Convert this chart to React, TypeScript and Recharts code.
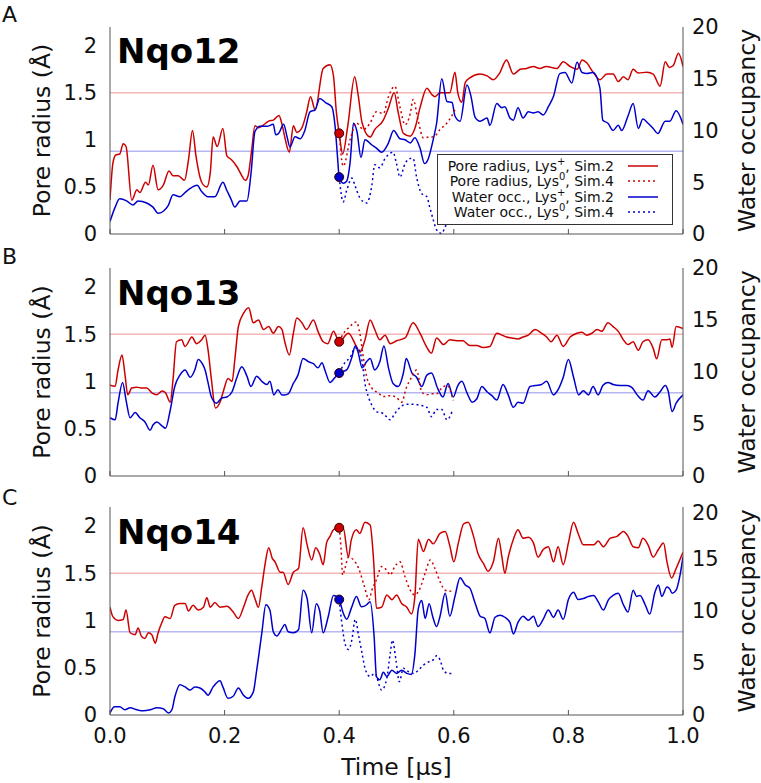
import React from 'react';
import { LineChart, Line, XAxis, YAxis, ReferenceLine, Legend } from 'recharts';

type Pt = [number, number];

// ---------- axis ticks / labels ----------
const timeTicks = [0, 0.2, 0.4, 0.6, 0.8, 1.0];
const radiusTicks = [0, 0.5, 1, 1.5, 2];
const waterTicks = [0, 5, 10, 15, 20];
const radiusRef = 1.5;
const waterRef = 8;
const panelLetters = ['A', 'B', 'C'];
const panelNames = ['Nqo12', 'Nqo13', 'Nqo14'];
const legendLabels = [
  { pre: 'Pore radius, Lys', sup: '+', post: ', Sim.2' },
  { pre: 'Pore radius, Lys', sup: '0', post: ', Sim.4' },
  { pre: 'Water occ., Lys', sup: '+', post: ', Sim.2' },
  { pre: 'Water occ., Lys', sup: '0', post: ', Sim.4' },
];

// ---------- Panel A (Nqo12) ----------
const A_radiusSim2: Pt[] = [[0,0.36],[0.005,0.75],[0.01,0.84],[0.017,0.85],[0.023,0.96],[0.028,0.93],[0.038,0.36],[0.047,0.47],[0.052,0.44],[0.062,0.55],[0.067,0.52],[0.075,0.73],[0.084,0.47],[0.093,0.52],[0.103,0.67],[0.11,0.62],[0.119,0.62],[0.13,0.57],[0.137,0.79],[0.144,1.10],[0.15,0.83],[0.16,0.55],[0.169,0.5],[0.175,0.65],[0.18,1.03],[0.187,0.93],[0.197,1.12],[0.204,0.83],[0.212,0.79],[0.221,0.72],[0.23,0.62],[0.236,0.57],[0.241,0.62],[0.247,0.88],[0.253,1.15],[0.259,1.13],[0.268,1.16],[0.277,1.20],[0.285,1.21],[0.295,1.26],[0.3,1.17],[0.305,1.03],[0.313,0.87],[0.32,1.15],[0.326,1.08],[0.335,1.13],[0.343,1.29],[0.35,1.46],[0.358,1.32],[0.372,1.76],[0.384,1.80],[0.39,1.68],[0.395,1.3],[0.4,1.07],[0.406,0.85],[0.415,1.15],[0.427,1.67],[0.433,1.48],[0.44,1.18],[0.454,1.03],[0.462,1.11],[0.477,1.21],[0.486,1.34],[0.496,1.50],[0.503,1.29],[0.512,1.07],[0.524,1.04],[0.532,1.12],[0.541,1.34],[0.553,1.55],[0.562,1.48],[0.567,1.46],[0.576,1.50],[0.582,1.50],[0.593,1.50],[0.602,1.72],[0.607,1.50],[0.614,1.40],[0.62,1.61],[0.628,1.66],[0.646,1.70],[0.658,1.68],[0.669,1.64],[0.68,1.71],[0.692,1.85],[0.704,1.70],[0.716,1.75],[0.727,1.76],[0.739,1.78],[0.75,1.76],[0.761,1.78],[0.78,1.76],[0.791,1.83],[0.803,1.78],[0.815,1.75],[0.824,1.85],[0.832,1.82],[0.843,1.72],[0.855,1.64],[0.867,1.70],[0.878,1.70],[0.887,1.62],[0.896,1.67],[0.904,1.64],[0.913,1.75],[0.922,1.71],[0.937,1.72],[0.948,1.70],[0.96,1.57],[0.969,1.83],[0.976,1.77],[0.983,1.79],[0.992,1.92],[1.0,1.78]];
const A_radiusSim4: Pt[] = [[0.4,1.07],[0.407,0.72],[0.419,1.0],[0.43,1.18],[0.442,1.11],[0.454,1.18],[0.465,1.30],[0.477,1.28],[0.486,1.46],[0.497,1.57],[0.506,1.35],[0.515,1.16],[0.524,1.28],[0.529,1.43],[0.538,1.2],[0.547,1.02],[0.556,1.03],[0.564,1.03],[0.576,1.11],[0.588,1.18],[0.597,1.26],[0.602,1.32]];
const A_waterSim2: Pt[] = [[0,1.2],[0.009,2.6],[0.017,3.4],[0.029,3.2],[0.04,2.8],[0.049,3.2],[0.064,3.0],[0.075,2.6],[0.084,2.0],[0.093,2.2],[0.102,2.8],[0.11,3.8],[0.122,3.6],[0.131,4.0],[0.14,4.4],[0.152,4.7],[0.16,4.1],[0.171,3.6],[0.183,3.6],[0.197,5.0],[0.204,4.2],[0.211,3.4],[0.218,2.6],[0.227,3.2],[0.239,3.2],[0.246,5.8],[0.253,9.9],[0.262,10.4],[0.274,10.4],[0.285,10.6],[0.289,9.6],[0.294,9.7],[0.303,10.6],[0.309,9.4],[0.314,8.4],[0.323,9.4],[0.332,9.2],[0.34,10.0],[0.349,11.8],[0.358,12.0],[0.366,13.1],[0.376,12.7],[0.387,12.3],[0.393,10.3],[0.397,7.5],[0.4,5.5],[0.407,4.9],[0.413,5.1],[0.419,6.9],[0.425,10.7],[0.431,9.9],[0.438,7.4],[0.445,9.1],[0.457,8.6],[0.465,8.3],[0.474,7.9],[0.486,8.8],[0.495,10.0],[0.506,9.2],[0.515,9.1],[0.524,8.8],[0.532,9.3],[0.541,8.3],[0.549,6.8],[0.555,7.2],[0.564,9.1],[0.57,10.7],[0.579,15.0],[0.588,12.8],[0.597,12.7],[0.602,11.4],[0.611,10.9],[0.623,14.4],[0.63,13.3],[0.637,11.3],[0.646,10.9],[0.658,11.2],[0.663,10.5],[0.675,12.6],[0.684,12.2],[0.689,12.3],[0.698,11.2],[0.704,11.0],[0.712,12.2],[0.721,11.2],[0.73,11.8],[0.739,11.7],[0.747,11.8],[0.756,11.5],[0.765,12.3],[0.774,13.3],[0.785,15.5],[0.794,15.6],[0.806,14.6],[0.815,16.6],[0.824,15.6],[0.832,15.5],[0.843,15.6],[0.855,14.1],[0.86,11.0],[0.869,10.7],[0.878,10.0],[0.887,10.5],[0.893,10.0],[0.904,11.4],[0.913,12.6],[0.922,10.2],[0.93,11.1],[0.939,10.7],[0.948,10.2],[0.956,9.7],[0.969,10.9],[0.977,10.9],[0.988,11.9],[1.0,10.6]];
const A_waterSim4: Pt[] = [[0.4,5.5],[0.407,3.1],[0.413,4.2],[0.422,5.4],[0.428,4.6],[0.436,3.5],[0.448,3.0],[0.457,4.7],[0.462,6.7],[0.471,6.4],[0.48,7.3],[0.489,7.8],[0.494,7.9],[0.5,6.8],[0.506,5.5],[0.515,6.8],[0.524,7.3],[0.529,7.3],[0.535,5.5],[0.544,3.9],[0.553,3.6],[0.558,2.6],[0.564,1.4],[0.57,0.4],[0.579,0.05],[0.585,0.7],[0.59,1.2]];

// ---------- Panel B (Nqo13) ----------
const B_radiusSim2: Pt[] = [[0,0.96],[0.009,0.95],[0.014,1.12],[0.021,1.28],[0.026,1.08],[0.031,0.86],[0.038,0.93],[0.047,0.94],[0.056,0.93],[0.064,0.93],[0.073,0.88],[0.082,0.86],[0.091,0.9],[0.097,0.88],[0.105,0.78],[0.11,1.02],[0.116,1.42],[0.125,1.44],[0.131,1.37],[0.143,1.47],[0.151,1.40],[0.16,1.44],[0.166,1.49],[0.171,1.34],[0.177,1.02],[0.184,0.72],[0.192,0.78],[0.198,0.90],[0.206,1.03],[0.213,1.0],[0.218,1.24],[0.224,1.58],[0.233,1.72],[0.242,1.78],[0.25,1.62],[0.259,1.65],[0.268,1.55],[0.277,1.58],[0.285,1.51],[0.294,1.58],[0.3,1.55],[0.305,1.42],[0.313,1.28],[0.32,1.51],[0.326,1.67],[0.335,1.62],[0.343,1.55],[0.355,1.65],[0.363,1.53],[0.372,1.42],[0.38,1.40],[0.39,1.53],[0.4,1.42],[0.416,1.51],[0.43,1.37],[0.436,1.31],[0.445,1.44],[0.454,1.65],[0.462,1.55],[0.471,1.44],[0.48,1.49],[0.489,1.40],[0.5,1.43],[0.515,1.46],[0.529,1.62],[0.541,1.51],[0.553,1.36],[0.561,1.30],[0.57,1.46],[0.582,1.39],[0.593,1.44],[0.605,1.43],[0.616,1.43],[0.628,1.38],[0.64,1.38],[0.651,1.36],[0.663,1.37],[0.675,1.51],[0.684,1.49],[0.692,1.47],[0.701,1.46],[0.712,1.45],[0.721,1.47],[0.73,1.49],[0.742,1.55],[0.753,1.51],[0.762,1.47],[0.77,1.42],[0.78,1.49],[0.791,1.37],[0.803,1.47],[0.815,1.51],[0.824,1.52],[0.832,1.49],[0.841,1.51],[0.85,1.55],[0.858,1.53],[0.869,1.62],[0.878,1.58],[0.887,1.53],[0.896,1.44],[0.904,1.39],[0.913,1.42],[0.922,1.33],[0.93,1.42],[0.939,1.44],[0.948,1.35],[0.954,1.24],[0.963,1.44],[0.972,1.44],[0.977,1.45],[0.981,1.36],[0.988,1.58],[1.0,1.56]];
const B_radiusSim4: Pt[] = [[0.4,1.42],[0.41,1.53],[0.419,1.58],[0.425,1.62],[0.43,1.63],[0.436,1.51],[0.442,1.26],[0.448,1.05],[0.457,0.93],[0.468,0.88],[0.477,0.84],[0.489,0.85],[0.5,0.83],[0.509,0.78],[0.517,0.93],[0.527,1.05],[0.535,1.12],[0.544,0.89],[0.553,0.86],[0.561,0.87],[0.57,0.87],[0.579,0.93],[0.588,0.96],[0.599,0.80]];
const B_waterSim2: Pt[] = [[0,5.6],[0.009,5.4],[0.014,7.0],[0.022,9.0],[0.028,7.3],[0.035,5.6],[0.044,6.1],[0.052,5.6],[0.061,5.2],[0.07,4.4],[0.075,4.9],[0.082,5.2],[0.091,4.8],[0.097,4.6],[0.105,6.3],[0.113,8.6],[0.122,9.7],[0.131,10.2],[0.14,9.5],[0.148,10.2],[0.154,11.2],[0.162,10.7],[0.166,10.2],[0.171,9.0],[0.177,7.6],[0.186,7.0],[0.195,7.5],[0.204,7.6],[0.213,8.1],[0.221,9.4],[0.23,10.5],[0.239,9.6],[0.246,8.6],[0.256,9.6],[0.265,9.1],[0.274,8.8],[0.279,9.1],[0.286,7.8],[0.293,8.3],[0.3,7.8],[0.305,7.8],[0.311,7.9],[0.32,8.9],[0.328,9.7],[0.337,11.3],[0.346,11.0],[0.355,10.8],[0.363,10.4],[0.37,10.9],[0.375,10.2],[0.384,9.0],[0.393,9.5],[0.4,9.9],[0.413,10.2],[0.422,11.4],[0.428,12.5],[0.433,11.9],[0.44,10.4],[0.448,11.0],[0.454,11.3],[0.462,10.2],[0.471,11.0],[0.478,12.5],[0.486,10.4],[0.494,8.9],[0.503,8.6],[0.512,9.9],[0.517,11.3],[0.527,9.9],[0.535,9.5],[0.544,8.6],[0.553,9.7],[0.561,9.9],[0.572,8.4],[0.581,7.6],[0.59,8.9],[0.599,7.6],[0.607,8.7],[0.614,9.1],[0.623,8.0],[0.632,7.1],[0.64,7.4],[0.649,8.6],[0.658,8.1],[0.667,7.7],[0.675,7.3],[0.686,8.8],[0.695,7.8],[0.704,6.6],[0.712,7.1],[0.721,7.0],[0.733,8.6],[0.742,8.7],[0.753,8.8],[0.762,9.1],[0.774,7.8],[0.782,8.3],[0.791,9.5],[0.8,11.2],[0.809,9.5],[0.818,7.8],[0.826,8.2],[0.835,7.8],[0.843,8.6],[0.852,7.8],[0.86,8.7],[0.869,9.0],[0.878,8.8],[0.89,8.7],[0.902,8.7],[0.911,8.5],[0.92,7.8],[0.93,7.3],[0.939,8.2],[0.951,7.6],[0.96,8.1],[0.969,8.7],[0.974,8.2],[0.981,6.2],[0.988,7.0],[1.0,7.8]];
const B_waterSim4: Pt[] = [[0.4,9.9],[0.41,10.9],[0.419,11.4],[0.428,12.3],[0.433,12.3],[0.44,11.0],[0.445,8.9],[0.451,7.6],[0.457,6.8],[0.465,6.2],[0.477,6.0],[0.489,5.4],[0.497,6.0],[0.506,6.6],[0.517,6.9],[0.529,6.9],[0.541,6.8],[0.553,6.6],[0.561,5.7],[0.57,6.4],[0.579,6.4],[0.588,5.4],[0.597,6.2]];

// ---------- Panel C (Nqo14) ----------
const C_radiusSim2: Pt[] = [[0,1.14],[0.005,1.04],[0.014,1.0],[0.023,1.01],[0.028,1.11],[0.035,0.87],[0.044,0.85],[0.049,0.92],[0.055,0.83],[0.061,0.81],[0.067,0.87],[0.073,0.85],[0.079,0.76],[0.084,0.87],[0.09,0.97],[0.096,1.04],[0.105,1.02],[0.113,1.16],[0.122,1.18],[0.131,1.18],[0.137,1.10],[0.145,1.16],[0.154,1.11],[0.163,1.14],[0.169,1.24],[0.175,1.14],[0.183,1.19],[0.192,1.14],[0.204,1.15],[0.215,1.09],[0.224,1.02],[0.233,1.14],[0.241,1.27],[0.247,1.32],[0.253,1.23],[0.259,1.14],[0.265,1.36],[0.271,1.61],[0.277,1.77],[0.283,1.66],[0.288,1.62],[0.297,1.51],[0.302,1.51],[0.311,1.38],[0.32,1.51],[0.329,1.55],[0.337,1.98],[0.344,1.80],[0.352,1.64],[0.359,1.77],[0.366,1.70],[0.372,1.59],[0.378,1.82],[0.384,1.89],[0.39,1.96],[0.4,1.98],[0.407,1.98],[0.416,1.67],[0.421,1.85],[0.43,1.96],[0.436,1.92],[0.445,2.04],[0.454,2.01],[0.46,1.64],[0.465,1.13],[0.474,1.14],[0.483,1.27],[0.492,1.22],[0.5,1.27],[0.509,1.18],[0.518,1.14],[0.526,1.07],[0.532,1.25],[0.538,1.86],[0.547,1.73],[0.556,1.86],[0.564,1.81],[0.576,1.92],[0.585,1.94],[0.593,1.79],[0.6,1.62],[0.608,1.82],[0.617,2.02],[0.625,2.04],[0.634,1.90],[0.642,1.71],[0.652,1.60],[0.66,1.52],[0.669,1.62],[0.678,1.87],[0.684,1.67],[0.689,1.50],[0.695,1.67],[0.704,1.86],[0.712,1.96],[0.721,1.87],[0.73,1.88],[0.739,1.82],[0.747,1.67],[0.756,1.75],[0.765,1.78],[0.774,1.62],[0.782,1.78],[0.791,1.59],[0.8,1.82],[0.809,2.04],[0.817,1.92],[0.826,1.80],[0.835,1.80],[0.844,1.80],[0.852,1.84],[0.861,1.78],[0.873,1.87],[0.885,1.89],[0.896,1.94],[0.904,1.89],[0.913,1.78],[0.922,1.77],[0.93,1.87],[0.939,1.80],[0.948,1.67],[0.957,1.75],[0.966,1.82],[0.972,1.62],[0.98,1.45],[0.988,1.55],[1.0,1.72]];
const C_radiusSim4: Pt[] = [[0.4,1.98],[0.403,1.78],[0.406,1.48],[0.41,1.55],[0.416,1.67],[0.425,1.64],[0.434,1.55],[0.443,1.38],[0.452,1.22],[0.457,1.32],[0.465,1.43],[0.474,1.57],[0.483,1.53],[0.489,1.48],[0.497,1.57],[0.506,1.62],[0.515,1.46],[0.524,1.32],[0.532,1.27],[0.541,1.34],[0.55,1.50],[0.559,1.64],[0.567,1.55],[0.576,1.41],[0.585,1.32],[0.593,1.31],[0.599,1.32]];
const C_waterSim2: Pt[] = [[0,0.2],[0.008,0.8],[0.017,0.8],[0.026,0.5],[0.035,0.7],[0.047,0.5],[0.058,0.4],[0.07,0.5],[0.082,0.7],[0.093,0.6],[0.102,0.2],[0.108,0.5],[0.113,1.7],[0.122,2.9],[0.131,2.7],[0.14,2.4],[0.148,2.7],[0.157,2.6],[0.166,2.2],[0.171,1.9],[0.18,2.7],[0.192,3.3],[0.197,2.7],[0.206,1.6],[0.215,1.8],[0.224,2.6],[0.233,1.9],[0.241,1.6],[0.25,2.2],[0.256,4.3],[0.265,7.9],[0.272,10.6],[0.279,10.1],[0.285,8.0],[0.291,7.6],[0.3,8.3],[0.305,8.7],[0.311,8.0],[0.32,7.9],[0.329,8.2],[0.337,12.0],[0.344,11.2],[0.352,7.9],[0.36,10.7],[0.366,10.0],[0.372,7.9],[0.381,9.5],[0.39,11.5],[0.395,11.4],[0.4,11.1],[0.407,9.8],[0.413,9.2],[0.422,10.4],[0.43,11.4],[0.439,10.4],[0.448,10.6],[0.454,10.9],[0.461,7.5],[0.465,3.7],[0.471,3.4],[0.477,4.1],[0.483,3.7],[0.492,4.3],[0.5,4.0],[0.509,4.3],[0.518,4.0],[0.526,3.9],[0.532,5.8],[0.538,10.2],[0.544,11.0],[0.55,9.3],[0.557,10.7],[0.563,9.5],[0.57,8.5],[0.576,9.5],[0.585,11.7],[0.593,9.5],[0.602,11.4],[0.611,13.2],[0.62,12.5],[0.628,12.2],[0.637,10.8],[0.646,9.5],[0.654,9.3],[0.663,7.9],[0.672,9.4],[0.681,9.6],[0.689,9.4],[0.698,8.9],[0.704,7.8],[0.712,8.9],[0.721,9.5],[0.73,9.1],[0.739,9.5],[0.747,8.5],[0.756,9.2],[0.765,10.1],[0.774,9.4],[0.782,10.1],[0.791,9.2],[0.8,11.1],[0.809,11.8],[0.817,11.1],[0.826,11.2],[0.835,11.4],[0.844,11.5],[0.852,10.9],[0.861,10.1],[0.87,11.1],[0.878,11.5],[0.887,11.7],[0.896,10.6],[0.904,9.9],[0.913,12.0],[0.919,11.4],[0.925,11.5],[0.934,10.6],[0.942,9.7],[0.951,11.8],[0.957,12.5],[0.963,11.4],[0.972,12.3],[0.977,12.1],[0.981,11.7],[0.988,12.0],[0.995,13.5],[1.0,15.2]];
const C_waterSim4: Pt[] = [[0.4,11.1],[0.404,9.1],[0.41,6.9],[0.416,6.3],[0.422,7.2],[0.428,9.2],[0.434,7.6],[0.44,5.9],[0.445,4.5],[0.454,3.7],[0.462,4.0],[0.474,2.4],[0.483,3.5],[0.489,5.9],[0.493,7.2],[0.499,5.3],[0.505,3.2],[0.512,4.5],[0.52,4.2],[0.53,4.0],[0.538,4.3],[0.547,4.8],[0.556,5.1],[0.564,5.3],[0.57,5.7],[0.576,5.3],[0.582,4.3],[0.59,4.0],[0.596,4.0]];

// ---------- styling ----------
const RED = '#cc0000';
const BLUE = '#0000cc';
const PINK = '#f2b6b6';
const LIGHTBLUE = '#b6b6f2';
const FRAME = '#555555';
const TEXT = '#111111';
const FONT = "'DejaVu Sans', sans-serif";
const DOTTED = '2 3';

const seriesStyles = [
  { color: RED, dash: undefined as string | undefined },
  { color: RED, dash: DOTTED },
  { color: BLUE, dash: undefined as string | undefined },
  { color: BLUE, dash: DOTTED },
];

const panelData = [
  { r2: A_radiusSim2, r4: A_radiusSim4, w2: A_waterSim2, w4: A_waterSim4 },
  { r2: B_radiusSim2, r4: B_radiusSim4, w2: B_waterSim2, w4: B_waterSim4 },
  { r2: C_radiusSim2, r4: C_radiusSim4, w2: C_waterSim2, w4: C_waterSim4 },
];

const panelLayout = [
  { top: 0, height: 250, mt: 27, mb: 0, xh: 16 },
  { top: 250, height: 250, mt: 18, mb: 8, xh: 16 },
  { top: 500, height: 283, mt: 7, mb: 0, xh: 68 },
];

const toRows = (pts: Pt[]) => pts.map(([t, v]) => ({ t, v }));

function VerticalTitle(props: any) {
  const { viewBox, text, dx } = props;
  if (!viewBox) return null;
  const x = viewBox.x + dx;
  const y = viewBox.y + viewBox.height / 2;
  return (
    <text x={x} y={y} transform={`rotate(-90, ${x}, ${y})`} textAnchor="middle" dominantBaseline="central"
      fontSize={23.5} fill={TEXT} fontFamily={FONT}>{text}</text>
  );
}

function BottomTitle(props: any) {
  const { viewBox, text, dy } = props;
  if (!viewBox) return null;
  return (
    <text x={viewBox.x + viewBox.width / 2} y={viewBox.y + dy} textAnchor="middle"
      fontSize={23.5} fill={TEXT} fontFamily={FONT}>{text}</text>
  );
}

function LegendBox() {
  return (
    <div style={{
      boxSizing: 'border-box', width: 236, height: 71, border: '1px solid #333', background: '#fff',
      paddingTop: 3, fontFamily: FONT, fontSize: 14, color: TEXT,
    }}>
      {legendLabels.map((l, i) => (
        <div key={i} style={{ display: 'flex', justifyContent: 'flex-end', alignItems: 'center', height: 15.5, whiteSpace: 'nowrap' }}>
          <span>
            {l.pre}
            <span style={{ fontSize: 10, position: 'relative', top: -6 }}>{l.sup}</span>
            {l.post}
          </span>
          <svg width={30} height={6} style={{ marginLeft: 14, marginRight: 14 }}>
            <line x1={0} y1={3} x2={30} y2={3} stroke={seriesStyles[i].color} strokeWidth={1.5}
              strokeDasharray={seriesStyles[i].dash} />
          </svg>
        </div>
      ))}
    </div>
  );
}

function branchDot(color: string) {
  return (p: any) => {
    if (p.index === 0) {
      return <circle key={`d${p.index}`} cx={p.cx} cy={p.cy} r={4.5} fill={color} stroke="#330000" strokeWidth={1} />;
    }
    return <g key={`d${p.index}`} />;
  };
}

function Panel({ idx }: { idx: number }) {
  const lay = panelLayout[idx];
  const d = panelData[idx];
  const last = idx === 2;
  const tickStyle = { fontSize: 21, fill: TEXT, fontFamily: FONT };
  return (
    <div style={{ position: 'absolute', left: 0, top: lay.top }}>
      <LineChart width={761} height={lay.height} margin={{ top: lay.mt, right: 0, bottom: lay.mb, left: 0 }}>
        <XAxis dataKey="t" type="number" domain={[0, 1]} ticks={timeTicks} allowDataOverflow
          height={lay.xh} tickSize={-5} tickMargin={18}
          tickFormatter={(v: number) => (last ? v.toFixed(1) : '')}
          tick={tickStyle} axisLine={{ stroke: FRAME }} tickLine={{ stroke: FRAME }}
          label={last ? <BottomTitle text="Time [µs]" dy={60} /> : undefined} />
        <XAxis xAxisId="top" orientation="top" type="number" domain={[0, 1]} ticks={timeTicks} allowDataOverflow
          height={0} tickSize={-5} tickFormatter={() => ''} axisLine={{ stroke: FRAME }} tickLine={{ stroke: FRAME }} />
        <YAxis yAxisId="r" orientation="left" type="number" domain={[0, 2.2]} ticks={radiusTicks} allowDataOverflow
          width={110} tickSize={0} tickMargin={13} tickLine={false} axisLine={{ stroke: FRAME }} tick={tickStyle}
          tickFormatter={(v: number) => String(v)}
          label={<VerticalTitle text="Pore radius (Å)" dx={42} />} />
        <YAxis yAxisId="w" orientation="right" type="number" domain={[0, 20]} ticks={waterTicks} allowDataOverflow
          width={78} tickSize={0} tickMargin={9} tickLine={false} axisLine={{ stroke: FRAME }} tick={tickStyle}
          label={<VerticalTitle text="Water occupancy" dx={64} />} />
        <ReferenceLine yAxisId="r" y={radiusRef} stroke={PINK} strokeWidth={1.5} />
        <ReferenceLine yAxisId="w" y={waterRef} stroke={LIGHTBLUE} strokeWidth={1.5} />
        <Line data={toRows(d.r2)} dataKey="v" yAxisId="r" type="monotone" stroke={RED} strokeWidth={1.5}
          dot={false} isAnimationActive={false} name="r2" />
        <Line data={toRows(d.w2)} dataKey="v" yAxisId="w" type="monotone" stroke={BLUE} strokeWidth={1.5}
          dot={false} isAnimationActive={false} name="w2" />
        <Line data={toRows(d.r4)} dataKey="v" yAxisId="r" type="monotone" stroke={RED} strokeWidth={1.5}
          strokeDasharray={DOTTED} dot={branchDot(RED)} isAnimationActive={false} name="r4" />
        <Line data={toRows(d.w4)} dataKey="v" yAxisId="w" type="monotone" stroke={BLUE} strokeWidth={1.5}
          strokeDasharray={DOTTED} dot={branchDot(BLUE)} isAnimationActive={false} name="w4" />
        {idx === 0 && (
          <Legend layout="vertical" align="center" verticalAlign="middle" content={<LegendBox />}
            wrapperStyle={{ left: 437, top: 154, width: 236, height: 71 }} />
        )}
      </LineChart>
    </div>
  );
}

const letterBaselines = [22, 264, 505];
const titleBaselines = [63, 305, 544];

export default function App() {
  return (
    <div style={{ position: 'absolute', left: 0, top: 0, width: 761, height: 783, background: '#fff', fontFamily: FONT }}>
      <Panel idx={0} />
      <Panel idx={1} />
      <Panel idx={2} />
      <svg width={761} height={783} style={{ position: 'absolute', left: 0, top: 0, pointerEvents: 'none' }}>
        {panelLetters.map((l, i) => (
          <text key={l} x={2} y={letterBaselines[i]} fontSize={22} fill={TEXT} fontFamily={FONT}>{l}</text>
        ))}
        {panelNames.map((n, i) => (
          <text key={n} x={117} y={titleBaselines[i]} fontSize={34} fontWeight="bold" fill="#000" fontFamily={FONT}>{n}</text>
        ))}
      </svg>
    </div>
  );
}
